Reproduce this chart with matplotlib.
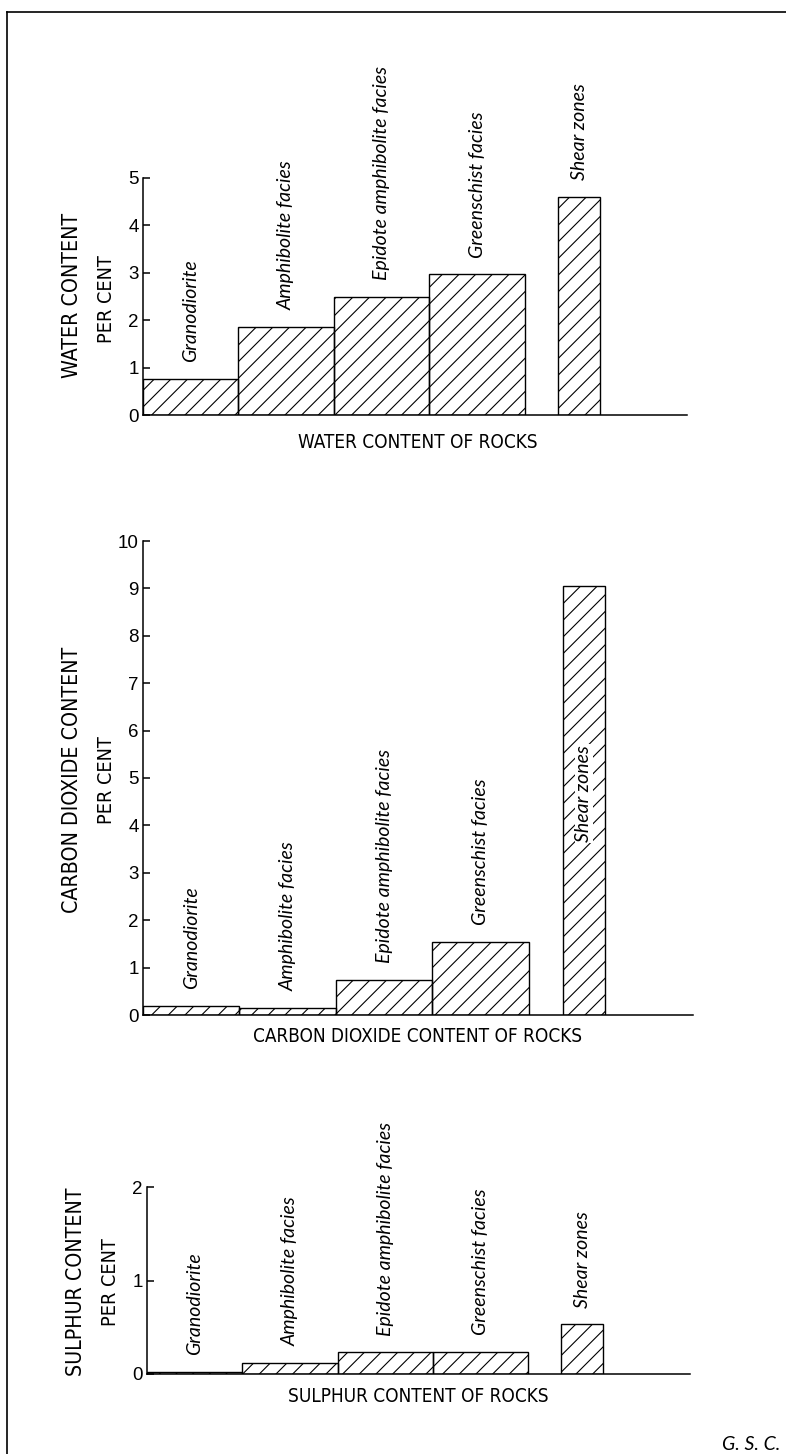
import matplotlib
matplotlib.use("Agg")
import matplotlib.pyplot as plt
from matplotlib import font_manager

# rock groups, same order in every panel
categories = ["Granodiorite", "Amphibolite facies", "Epidote amphibolite facies",
              "Greenschist facies", "Shear zones"]

# per cent
water = [0.76, 1.86, 2.49, 2.97, 4.60]
co2 = [0.19, 0.15, 0.74, 1.54, 9.05]
sulphur = [0.02, 0.12, 0.23, 0.24, 0.53]

water_ticks = [0, 1, 2, 3, 4, 5]
co2_ticks = [0, 1, 2, 3, 4, 5, 6, 7, 8, 9, 10]
sulphur_ticks = [0, 1, 2]

# bar layout (x in bar-width units)
lefts = [0, 1, 2, 3, 4.35]
widths = [1, 1, 1, 1, 0.44]
XMAX = 5.7

W, H = 786, 1454
plt.rcParams['hatch.linewidth'] = 0.8

# look for a narrow sans for the capital captions
narrow = None
for f in font_manager.fontManager.ttflist:
    n = (f.name + ' ' + str(f.stretch)).lower()
    if ('narrow' in n or 'condensed' in n) and 'extra' not in n and 'ultra' not in n \
            and f.style == 'normal' and f.weight in (400, 'normal', 'regular'):
        narrow = f.fname
        break
if narrow:
    cap = dict(fontproperties=font_manager.FontProperties(fname=narrow))
    cap_scale = 1.0
else:
    cap = dict(family=['Liberation Sans', 'DejaVu Sans'])
    cap_scale = 0.82
tick_font = ['Liberation Sans', 'DejaVu Sans']
ital_font = ['Lato', 'DejaVu Sans']

fig = plt.figure(figsize=(W / 100, H / 100), dpi=100)

def px_axes(x0, y0, x1, y1):
    # pixel box (top-left origin) -> axes
    return fig.add_axes([x0 / W, 1 - y1 / H, (x1 - x0) / W, (y1 - y0) / H])

def panel(ax, values, ticks, inside=None):
    ax.bar(lefts, values, widths, align='edge', fill=False, hatch='//',
           edgecolor='black', linewidth=1.0)
    ax.set_xlim(0, XMAX)
    ax.set_ylim(0, ticks[-1])
    ax.set_yticks(ticks)
    ax.set_xticks([])
    for s in ['top', 'right']:
        ax.spines[s].set_visible(False)
    for s in ['left', 'bottom']:
        ax.spines[s].set_linewidth(1.1)
    ax.tick_params(axis='y', direction='in', length=5, width=1.1, pad=3,
                   labelsize=13.5)
    for lab in ax.get_yticklabels():
        lab.set_family(tick_font)
    ax.patch.set_alpha(0)
    for i, (name, v) in enumerate(zip(categories, values)):
        xc = lefts[i] + widths[i] / 2
        if inside is not None and i == len(values) - 1:
            ax.text(xc, inside, name, rotation=90, ha='center', va='bottom',
                    fontsize=14, style='italic', family=ital_font,
                    bbox=dict(facecolor='white', edgecolor='none', pad=0.5))
        else:
            ax.annotate(name, (xc, v), xytext=(0, 12), textcoords='offset points',
                        rotation=90, ha='center', va='bottom', fontsize=14,
                        style='italic', family=ital_font)

ax1 = px_axes(143, 178, 687, 415)
panel(ax1, water, water_ticks)
ax2 = px_axes(143, 541, 693, 1015)
panel(ax2, co2, co2_ticks, inside=3.65)
ax3 = px_axes(147, 1187, 690, 1374)
panel(ax3, sulphur, sulphur_ticks)

def ftext(x, y, s, size, **kw):
    fig.text(x / W, 1 - y / H, s, fontsize=size * cap_scale, ha='center',
             va='center', **cap, **kw)

# side titles
ftext(72, 295, "WATER CONTENT", 15.3, rotation=90)
ftext(107, 299, "PER CENT", 14.2, rotation=90)
ftext(72, 780, "CARBON DIOXIDE CONTENT", 15.3, rotation=90)
ftext(107, 780, "PER CENT", 14.2, rotation=90)
ftext(76, 1282, "SULPHUR CONTENT", 15.3, rotation=90)
ftext(110, 1282, "PER CENT", 14.2, rotation=90)

# bottom captions
ftext(418, 443, "WATER CONTENT OF ROCKS", 13.6)
ftext(418, 1037, "CARBON DIOXIDE CONTENT OF ROCKS", 13.6)
ftext(418, 1397, "SULPHUR CONTENT OF ROCKS", 13.6)

fig.text(780 / W, 1 - 1445 / H, "G. S. C.", ha='right', va='center', fontsize=14,
         style='italic', family=ital_font)

# page frame (top and left edges)
fig.add_artist(plt.Line2D([7 / W, 1], [1 - 12 / H, 1 - 12 / H], color='black', linewidth=1.2))
fig.add_artist(plt.Line2D([7 / W, 7 / W], [1 - 12 / H, 0], color='black', linewidth=1.2))

fig.savefig("out.png", dpi=100, facecolor='white')
